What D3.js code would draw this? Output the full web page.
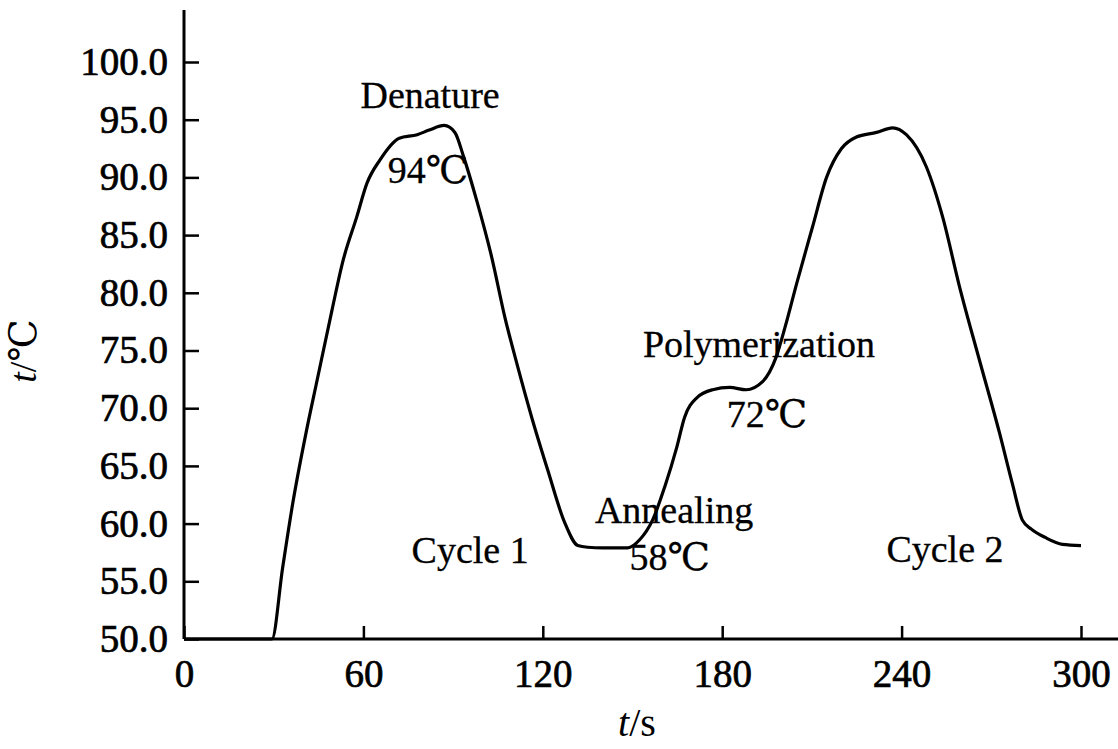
<!DOCTYPE html>
<html>
<head>
<meta charset="utf-8">
<script src="https://cdn.jsdelivr.net/npm/d3@7"></script>
<style>
	body { margin: 0; background: #fff; }
	text { font-family: 'Liberation Serif', 'DejaVu Serif', 'Noto Sans CJK SC', serif; fill: #000; }
</style>
</head>
<body>
<div id="root"></div>
<script>
// temperature profile (t in s, T in ℃)
const times = [0, 29.4, 33, 36.4, 41, 44.5, 49.5, 53, 57.8, 61.2, 65.5, 72, 78, 82, 87, 90.6, 93.5, 98,
	102.9, 107.3, 111.6, 116.3, 121.7, 127.3, 131.7, 135, 140, 148.4, 152.4, 156.7, 160.8, 164.8, 167.4,
	171.5, 176.8, 182.5, 188, 193.5, 198, 201, 204.9, 210.2, 214.9, 219.9, 224.9, 231.6, 237, 241.6,
	248.3, 253.7, 259.4, 266, 272.7, 277, 280.4, 283.5, 288, 293.8, 300]
const temps = [50, 50, 56.2, 61.8, 68.1, 72.4, 78.5, 82.6, 86.6, 89.5, 91.5, 93.4, 93.7, 94.1, 94.5, 93.9, 91.8, 87.9,
	83.1, 77.9, 73.6, 69.2, 64.6, 60.1, 58.1, 57.95, 57.9, 57.9, 58.6, 60.3, 63.2, 66.6, 69.2,
	70.9, 71.6, 71.8, 71.6, 72.3, 74.4, 77.0, 80.8, 85.7, 90.0, 92.5, 93.5, 93.9, 94.3, 93.7,
	90.9, 86.6, 80.5, 74.2, 67.9, 63.5, 60.3, 59.5, 58.8, 58.2, 58.1]

const xTicks = [0, 60, 120, 180, 240, 300]
const yTicks = [50, 55, 60, 65, 70, 75, 80, 85, 90, 95, 100]

// labels placed in data coordinates
const labels = [
	{ text: 'Denature', t: 82.3, T: 96.0 },
	{ text: '94℃', t: 81.6, T: 89.5 },
	{ text: 'Polymerization', t: 192.3, T: 74.4 },
	{ text: '72℃', t: 195, T: 68.4 },
	{ text: 'Annealing', t: 163.9, T: 60.05 },
	{ text: '58℃', t: 162.5, T: 56.0 },
	{ text: 'Cycle 1', t: 95.7, T: 56.6 },
	{ text: 'Cycle 2', t: 254.5, T: 56.7 },
]

const W = 1118, H = 749

const svg = d3.select('#root').append('svg')
	.attr('width', W)
	.attr('height', H)

const x = d3.scaleLinear().domain([0, 300]).range([184, 1081])
const y = d3.scaleLinear().domain([50, 100]).range([639, 62])

// axis lines run past the data range
svg.append('line')
	.attr('x1', x(0)).attr('x2', W)
	.attr('y1', y(50)).attr('y2', y(50))
	.attr('stroke', '#000').attr('stroke-width', 3)
svg.append('line')
	.attr('x1', x(0)).attr('x2', x(0))
	.attr('y1', y(50)).attr('y2', 10)
	.attr('stroke', '#000').attr('stroke-width', 3)

const axisX = svg.append('g')
	.attr('transform', `translate(0,${y(50)})`)
	.call(d3.axisBottom(x).tickValues(xTicks).tickSize(-13).tickFormat(d3.format('d')))
const axisY = svg.append('g')
	.attr('transform', `translate(${x(0)},0)`)
	.call(d3.axisLeft(y).tickValues(yTicks).tickSize(-15).tickPadding(16).tickFormat(d3.format('.1f')))

svg.selectAll('.domain').remove()
svg.selectAll('.tick line').attr('stroke', '#000').attr('stroke-width', 2.5)
svg.selectAll('.tick text')
	.attr('font-family', null)
	.attr('font-size', 39)
	.attr('stroke', '#000')
	.attr('stroke-width', 0.7)
axisX.selectAll('.tick text').attr('y', 48).attr('dy', 0)

// curve
const line = d3.line()
	.x((d, i) => x(times[i]))
	.y(d => y(d))
	.curve(d3.curveMonotoneX)

svg.append('path')
	.datum(temps)
	.attr('fill', 'none')
	.attr('stroke', '#000')
	.attr('stroke-width', 3.2)
	.attr('stroke-linejoin', 'round')
	.attr('d', line)

svg.selectAll('.label')
	.data(labels)
	.enter()
	.append('text')
	.attr('class', 'label')
	.attr('x', d => x(d.t))
	.attr('y', d => y(d.T))
	.attr('text-anchor', 'middle')
	.attr('font-size', 38)
	.attr('stroke', '#000')
	.attr('stroke-width', 0.3)
	.text(d => d.text)

// axis titles
const xTitle = svg.append('text')
	.attr('x', 637)
	.attr('y', 736)
	.attr('text-anchor', 'middle')
	.attr('font-size', 40)
xTitle.append('tspan').attr('font-style', 'italic').text('t')
xTitle.append('tspan').text('/s')

const yTitle = svg.append('text')
	.attr('transform', 'translate(36,351) rotate(-90)')
	.attr('text-anchor', 'middle')
	.attr('font-size', 38)
yTitle.append('tspan').attr('font-style', 'italic').text('t')
yTitle.append('tspan').text('/℃')
</script>
</body>
</html>
